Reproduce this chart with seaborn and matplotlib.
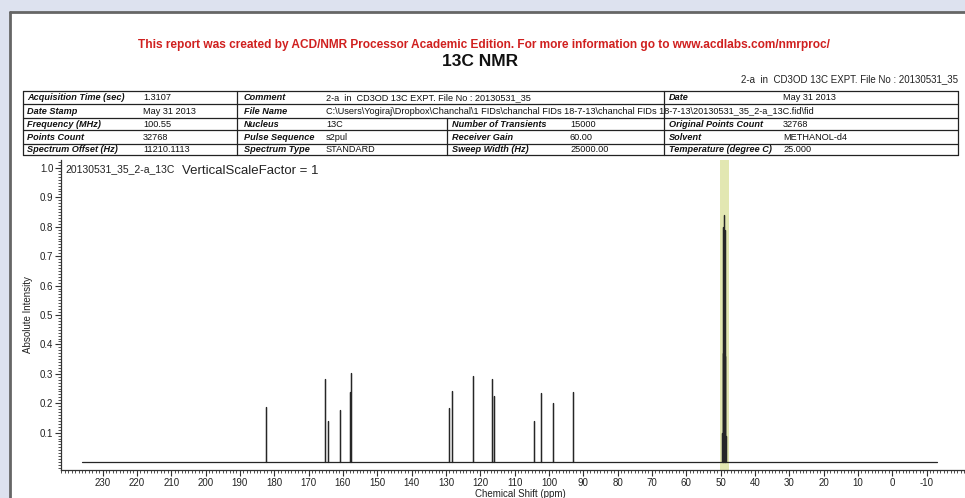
import numpy as np
import pandas as pd
import matplotlib
matplotlib.use("Agg")
import matplotlib.pyplot as plt
from matplotlib.lines import Line2D
from matplotlib.patches import Rectangle
from matplotlib.ticker import MultipleLocator, FixedLocator
import seaborn as sns

# ---------------- data ----------------
peak_ppm = [182.4, 165.2, 164.3, 160.9, 158.0, 157.5, 129.0, 128.3, 122.1,
            116.6, 115.9, 104.3, 102.2, 98.8, 93.0]
peak_int = [0.188, 0.281, 0.138, 0.176, 0.238, 0.304, 0.185, 0.240, 0.292,
            0.281, 0.224, 0.138, 0.235, 0.200, 0.238]
solvent_ppm = [49.64, 49.43, 49.21, 49.00, 48.79, 48.57, 48.36]
solvent_int = [0.10, 0.37, 0.80, 0.84, 0.79, 0.36, 0.09]
spectrum_start = 236.0
spectrum_end = -13.0

x_ticks = [230, 220, 210, 200, 190, 180, 170, 160, 150, 140, 130, 120, 110,
           100, 90, 80, 70, 60, 50, 40, 30, 20, 10, 0, -10]
y_ticks = [0.1, 0.2, 0.3, 0.4, 0.5, 0.6, 0.7, 0.8, 0.9, 1.0]

table_rows = [
    ["Acquisition Time (sec)", "1.3107", "Comment",
     "2-a  in  CD3OD 13C EXPT. File No : 20130531_35", "", "", "Date", "May 31 2013"],
    ["Date Stamp", "May 31 2013", "File Name",
     "C:\\Users\\Yogiraj\\Dropbox\\Chanchal\\1 FIDs\\chanchal FIDs 18-7-13\\chanchal FIDs 18-7-13\\20130531_35_2-a_13C.fid\\fid",
     "", "", "", ""],
    ["Frequency (MHz)", "100.55", "Nucleus", "13C", "Number of Transients", "15000",
     "Original Points Count", "32768"],
    ["Points Count", "32768", "Pulse Sequence", "s2pul", "Receiver Gain", "60.00",
     "Solvent", "METHANOL-d4"],
    ["Spectrum Offset (Hz)", "11210.1113", "Spectrum Type", "STANDARD",
     "Sweep Width (Hz)", "25000.00", "Temperature (degree C)", "25.000"],
]

# build the stick spectrum trace
all_ppm = peak_ppm + solvent_ppm
all_int = peak_int + solvent_int
order = np.argsort(all_ppm)[::-1]
xs, ys = [spectrum_start], [0.0]
for i in order:
    xs += [all_ppm[i], all_ppm[i], all_ppm[i]]
    ys += [0.0, all_int[i], 0.0]
xs.append(spectrum_end)
ys.append(0.0)
df = pd.DataFrame({"ppm": xs, "intensity": ys})

# ---------------- figure ----------------
sns.set_theme(style="white")
plt.rcParams["font.family"] = ["Liberation Sans", "DejaVu Sans"]

W, H = 965, 498
fig = plt.figure(figsize=(W / 100, H / 100), dpi=100)
fig.patch.set_facecolor("#dde2ef")


def fx(x):
    return x / W


def fy(y):
    return 1 - y / H


# white page
fig.add_artist(Rectangle((fx(10), 0), 1 - fx(10), fy(12), transform=fig.transFigure,
                         facecolor="white", edgecolor="none", zorder=0))
fig.add_artist(Line2D([fx(10), 1], [fy(12), fy(12)], transform=fig.transFigure,
                      color="#666666", lw=2))
fig.add_artist(Line2D([fx(10), fx(10)], [0, fy(12)], transform=fig.transFigure,
                      color="#666666", lw=2))

# header texts
fig.text(fx(484), fy(45), "This report was created by ACD/NMR Processor Academic Edition. "
         "For more information go to www.acdlabs.com/nmrproc/",
         ha="center", va="center", color="#d0201f", fontsize=8.6, fontweight="bold")
fig.text(fx(480), fy(62), "13C NMR", ha="center", va="center", color="#111111",
         fontsize=12.5, fontweight="bold")
fig.text(fx(958), fy(79), "2-a  in  CD3OD 13C EXPT. File No : 20130531_35",
         ha="right", va="center", color="#222222", fontsize=7)

# table
row_lines = [91, 104, 117.5, 130.5, 143.5, 155]
tab_l, tab_r = 23, 958
lc = "#222222"
for yy in row_lines:
    fig.add_artist(Line2D([fx(tab_l), fx(tab_r)], [fy(yy), fy(yy)],
                          transform=fig.transFigure, color=lc, lw=0.9))
for xx in [tab_l, 237, 664, tab_r]:
    fig.add_artist(Line2D([fx(xx), fx(xx)], [fy(91), fy(155)],
                          transform=fig.transFigure, color=lc, lw=0.9))
fig.add_artist(Line2D([fx(447), fx(447)], [fy(117.5), fy(155)],
                      transform=fig.transFigure, color=lc, lw=0.9))

col_x = [27, 143, 244, 326, 452, 570, 669, 783]
for r, row in enumerate(table_rows):
    yc = (row_lines[r] + row_lines[r + 1]) / 2 + 0.3
    for c, txt in enumerate(row):
        if not txt:
            continue
        is_label = c % 2 == 0
        fig.text(fx(col_x[c]), fy(yc), txt, ha="left", va="center", fontsize=6.6,
                 color="#111111", fontstyle="italic" if is_label else "normal",
                 fontweight="bold" if is_label else "normal")

# axes
ax = fig.add_axes([fx(61), fy(470), 1 - fx(61), fy(160) - fy(470)])
ax.set_facecolor("none")
ax.axvspan(47.5, 50.2, ymin=0, ymax=1, color="#e2e7b2", zorder=0, lw=0)
sns.lineplot(data=df, x="ppm", y="intensity", sort=False, estimator=None,
             color="#262626", lw=0.9, ax=ax, zorder=3)

ax.set_xlim(242.1, -21.2)
ax.set_ylim(-0.027, 1.027)
for s in ["top", "right"]:
    ax.spines[s].set_visible(False)
for s in ["left", "bottom"]:
    ax.spines[s].set_color("#333333")
    ax.spines[s].set_linewidth(0.9)

ax.xaxis.set_major_locator(FixedLocator(x_ticks))
ax.set_xticklabels([str(t) for t in x_ticks])
ax.xaxis.set_minor_locator(MultipleLocator(1))
ax.yaxis.set_major_locator(FixedLocator(y_ticks))
ax.set_yticklabels([f"{t:.1f}" for t in y_ticks])
ax.yaxis.set_minor_locator(MultipleLocator(0.01))
ax.tick_params(axis="both", which="major", direction="out", length=4, width=0.8,
               color="#333333", labelsize=7, labelcolor="#222222", pad=1.5)
ax.tick_params(axis="both", which="minor", direction="out", length=2.2, width=0.6,
               color="#333333")
ax.tick_params(bottom=True, left=True, which="both")

ax.set_xlabel("Chemical Shift (ppm)", fontsize=7, color="#222222", labelpad=0)
ax.set_ylabel("Absolute Intensity", fontsize=7, color="#222222", labelpad=5)
ax.xaxis.set_label_coords((520 - 61) / (W - 61), -0.06)

fig.text(fx(65), fy(169), "20130531_35_2-a_13C", ha="left", va="center",
         fontsize=7.5, color="#222222")
fig.text(fx(182), fy(171), "VerticalScaleFactor = 1", ha="left", va="center",
         fontsize=9.5, color="#222222")

fig.savefig("out.png", dpi=100)
